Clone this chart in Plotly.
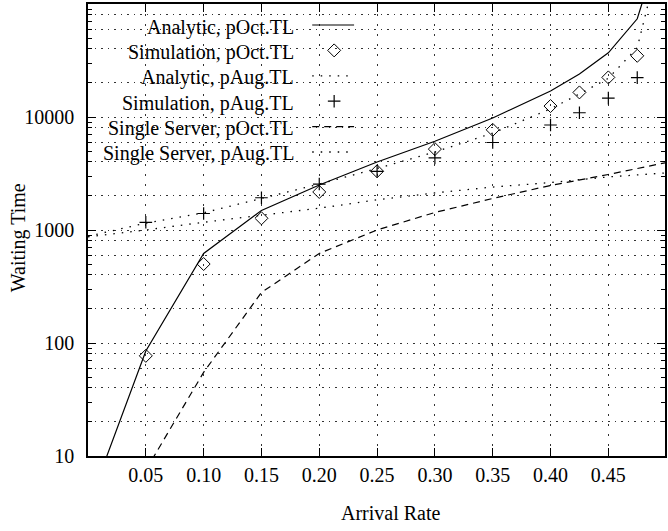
import plotly.graph_objects as go

# ---- data -------------------------------------------------------------
x_analytic_oct = [0.01, 0.05, 0.10, 0.15, 0.20, 0.25, 0.30, 0.35, 0.40, 0.425, 0.45, 0.475, 0.49]
wait_analytic_oct = [6.7, 85, 620, 1490, 2500, 4000, 6100, 9800, 17000, 24000, 37000, 74000, 230000]

x_sim = [0.05, 0.10, 0.15, 0.20, 0.25, 0.30, 0.35, 0.40, 0.425, 0.45, 0.475]
wait_sim_oct = [77, 500, 1270, 2170, 3310, 5200, 7700, 12500, 16500, 22400, 34800]
wait_sim_aug = [1170, 1400, 1930, 2550, 3300, 4350, 5950, 8500, 10900, 14700, 22300]

x_analytic_aug = [0.0, 0.05, 0.10, 0.15, 0.20, 0.25, 0.30, 0.35, 0.40, 0.425, 0.45, 0.475, 0.49]
wait_analytic_aug = [880, 1150, 1420, 1900, 2550, 3500, 4900, 7200, 11800, 16000, 22000, 41000, 170000]

x_single_oct = [0.05, 0.10, 0.15, 0.20, 0.25, 0.30, 0.35, 0.40, 0.45, 0.50]
wait_single_oct = [7.5, 55, 280, 620, 1000, 1430, 1900, 2480, 3100, 3950]

x_single_aug = [0.0, 0.05, 0.10, 0.15, 0.20, 0.25, 0.30, 0.35, 0.40, 0.45, 0.50]
wait_single_aug = [870, 1000, 1170, 1350, 1560, 1850, 2130, 2400, 2630, 2950, 3200]

x_ticks = [0.05, 0.10, 0.15, 0.20, 0.25, 0.30, 0.35, 0.40, 0.45]
x_tick_labels = ["0.05", "0.10", "0.15", "0.20", "0.25", "0.30", "0.35", "0.40", "0.45"]
y_ticks = [10, 100, 1000, 10000]
y_tick_labels = ["10", "100", "1000", "10000"]

series_names = [
    "Analytic, pOct.TL",
    "Simulation, pOct.TL",
    "Analytic, pAug.TL",
    "Simulation, pAug.TL",
    "Single Server, pOct.TL",
    "Single Server, pAug.TL",
]

# ---- styles -----------------------------------------------------------
FONT = "Liberation Serif"
INK = "black"
DOTS = "1.5px,7px"
DASHES = "7px,5px"

line_solid = dict(color=INK, width=1.2)
line_dotted = dict(color=INK, width=1.3, dash=DOTS)
line_dashed = dict(color=INK, width=1.2, dash=DASHES)
diamond = dict(symbol="diamond-open", size=10, color=INK, line=dict(color=INK, width=1))
plus = dict(symbol="cross-thin-open", size=9, color=INK, line=dict(color=INK, width=1.2))

styles = [
    dict(mode="lines", line=line_solid),
    dict(mode="markers", marker=diamond),
    dict(mode="lines", line=line_dotted),
    dict(mode="markers", marker=plus),
    dict(mode="lines", line=line_dashed),
    dict(mode="lines", line=line_dotted),
]
series_data = [
    (x_analytic_oct, wait_analytic_oct),
    (x_sim, wait_sim_oct),
    (x_analytic_aug, wait_analytic_aug),
    (x_sim, wait_sim_aug),
    (x_single_oct, wait_single_oct),
    (x_single_aug, wait_single_aug),
]

fig = go.Figure()
for name, (xs, ys), st in zip(series_names, series_data, styles):
    fig.add_trace(go.Scatter(x=xs, y=ys, name=name, showlegend=False, **st))

# ---- key (text right-aligned, sample to its right) ---------------------
W, H = 668, 531
ML, MR, MT, MB = 88, 1, 4, 75
PW, PH = W - ML - MR, H - MT - MB


def px_to_paper_x(px):
    return (px - ML) / PW


def px_to_paper_y(py):
    return (H - MB - py) / PH


key_text_right = 297
key_sample = (313, 355)
key_row0, key_row_step = 27, 25.4

annotations = []
for i, (name, st) in enumerate(zip(series_names, styles)):
    yc = key_row0 + key_row_step * i
    annotations.append(dict(
        x=px_to_paper_x(key_text_right), y=px_to_paper_y(yc), xref="paper", yref="paper",
        text=name, showarrow=False, xanchor="right", yanchor="middle",
        font=dict(family=FONT, size=20, color=INK),
    ))
    ys = px_to_paper_y(yc - 2)
    if st["mode"] == "lines":
        kx = [px_to_paper_x(key_sample[0]), px_to_paper_x(key_sample[1])]
        ky = [ys, ys]
    else:
        kx = [px_to_paper_x((key_sample[0] + key_sample[1]) / 2 + 1)]
        ky = [ys]
    fig.add_trace(go.Scatter(x=kx, y=ky, xaxis="x2", yaxis="y2", showlegend=False,
                             hoverinfo="skip", **st))

# keeps the grid-only axis alive
fig.add_trace(go.Scatter(x=[None], y=[None], yaxis="y3", showlegend=False, hoverinfo="skip"))

annotations += [
    dict(x=px_to_paper_x(392), y=px_to_paper_y(513), xref="paper", yref="paper",
         text="Arrival Rate", showarrow=False, xanchor="center", yanchor="middle",
         font=dict(family=FONT, size=20, color=INK)),
    dict(x=px_to_paper_x(18), y=px_to_paper_y(238), xref="paper", yref="paper",
         text="Waiting Time", showarrow=False, textangle=-90, xanchor="center", yanchor="middle",
         font=dict(family=FONT, size=20, color=INK)),
]

minor_vals = [m * 10 ** e for e in range(1, 5) for m in range(2, 10)]
grid_vals = [m * 10 ** e for e in range(1, 5) for m in (2, 4, 6, 8)]

fig.update_layout(
    width=W, height=H,
    margin=dict(l=ML, r=MR, t=MT, b=MB),
    paper_bgcolor="white", plot_bgcolor="white",
    font=dict(family=FONT, size=20, color=INK),
    annotations=annotations,
    xaxis=dict(
        range=[0, 0.499], tickvals=x_ticks, ticktext=x_tick_labels,
        ticks="inside", ticklen=8, tickcolor=INK, tickwidth=1,
        showline=True, linecolor=INK, linewidth=1.5, mirror="ticks",
        showgrid=True, gridcolor="#333", gridwidth=1, griddash="2px,8px",
        zeroline=False, ticklabelstandoff=0,
        tickfont=dict(family=FONT, size=20, color=INK),
    ),
    yaxis=dict(
        type="log", range=[1, 5], tickvals=y_ticks, ticktext=y_tick_labels,
        ticks="inside", ticklen=8, tickcolor=INK, tickwidth=1,
        showline=True, linecolor=INK, linewidth=1.5, mirror="ticks",
        showgrid=True, gridcolor="#333", gridwidth=1, griddash="1.5px,5px",
        zeroline=False, ticklabelstandoff=8,
        tickfont=dict(family=FONT, size=20, color=INK),
        minor=dict(tickvals=minor_vals, ticks="inside", ticklen=4, tickcolor=INK, showgrid=False),
    ),
    yaxis3=dict(
        type="log", range=[1, 5], overlaying="y", anchor="x",
        tickvals=grid_vals, showticklabels=False, ticks="",
        showgrid=True, gridcolor="#333", gridwidth=1, griddash="1.5px,5px",
        showline=False, zeroline=False,
    ),
    xaxis2=dict(range=[0, 1], overlaying="x", visible=False),
    yaxis2=dict(range=[0, 1], overlaying="y", visible=False),
)

fig.write_html("out.html")
